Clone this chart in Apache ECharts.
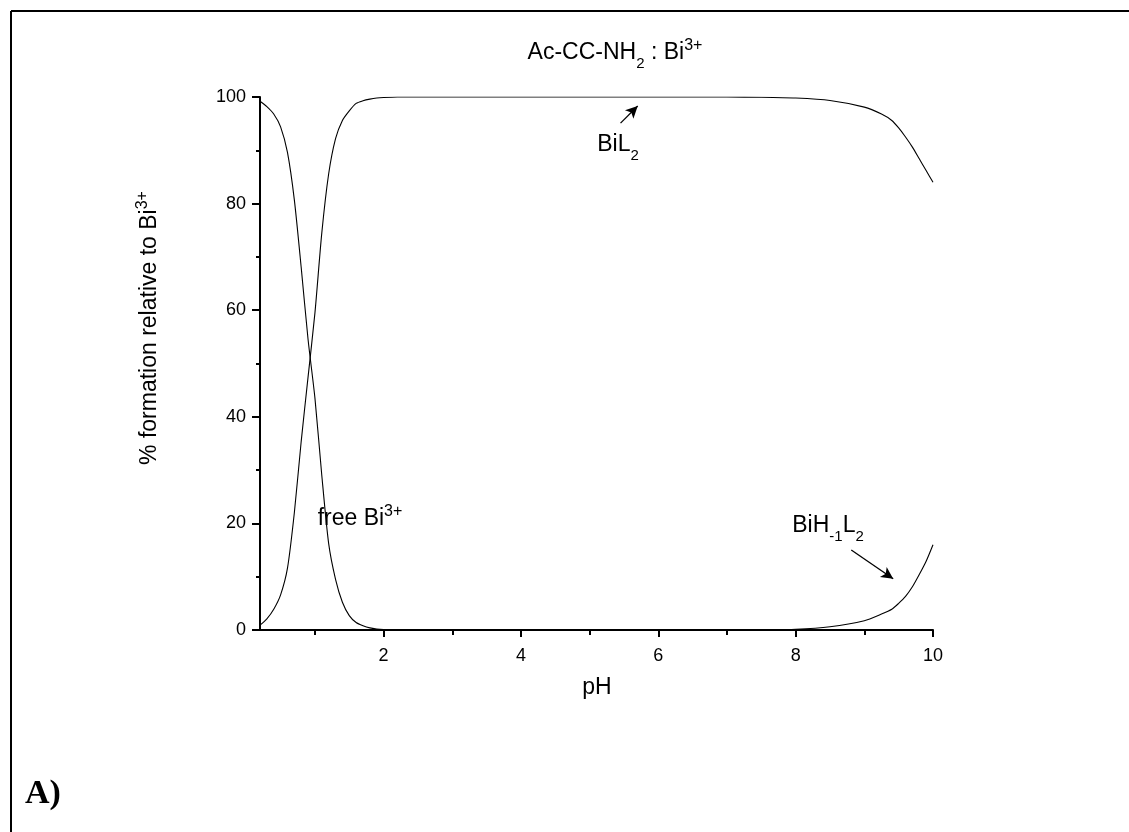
<!DOCTYPE html>
<html>
<head>
<meta charset="utf-8">
<script src="https://cdn.jsdelivr.net/npm/echarts@6/dist/echarts.min.js"></script>
<style>
  html, body { margin: 0; padding: 0; background: #fff; }
  #main { width: 1129px; height: 832px; }
</style>
</head>
<body>
<div id="main"></div>
<script>
// pH grid and species distribution (% relative to Bi3+)
var pH      = [0.2, 0.3, 0.4, 0.5, 0.6, 0.7, 0.8, 0.9, 1.0, 1.1, 1.2, 1.3, 1.4, 1.5, 1.6, 1.7, 1.8, 1.9, 2.0, 2.2, 2.5, 3, 4, 5, 6, 7, 7.5, 8, 8.5, 9, 9.25, 9.4, 9.5, 9.6, 9.7, 9.8, 9.9, 10];
var freeBi  = [99.2, 98.2, 96.8, 94.4, 89.6, 80.7, 68, 54.5, 43.5, 29, 16.2, 9.5, 5.2, 2.7, 1.4, 0.8, 0.4, 0.2, 0.1, 0.03, 0, 0, 0, 0, 0, 0, 0, 0, 0, 0, 0, 0, 0, 0, 0, 0, 0, 0];
var biL2    = [0.9, 2.1, 3.9, 6.6, 11.6, 22, 35.4, 47.5, 59.5, 74.5, 85.6, 92.2, 95.6, 97.4, 98.8, 99.3, 99.6, 99.8, 99.9, 100, 100, 100, 100, 100, 100, 100, 99.95, 99.8, 99.35, 98.1, 96.8, 95.6, 94.2, 92.5, 90.6, 88.4, 86.2, 84];
var biHL2   = [0, 0, 0, 0, 0, 0, 0, 0, 0, 0, 0, 0, 0, 0, 0, 0, 0, 0, 0, 0, 0, 0, 0, 0, 0, 0, 0.03, 0.12, 0.6, 1.75, 3.0, 3.9, 5.0, 6.3, 8.1, 10.4, 12.9, 16];

var xMajor = [2, 4, 6, 8, 10];
var xMinor = [1, 3, 5, 7, 9];

// arrows [start, end] in data coords
var arrowBiL2 = [[5.45, 95.1], [5.70, 98.3]];
var arrowBiH  = [[8.81, 15.0], [9.42, 9.6]];

function pairs(ys) {
  return pH.map(function (x, i) { return [x, ys[i]]; });
}

var font = 'Arial, "Liberation Sans", sans-serif';
var rich = {
  n:   { fontSize: 23, fontFamily: font, color: '#000', lineHeight: 24 },
  sub: { fontSize: 15, fontFamily: font, color: '#000', lineHeight: 15, padding: [22, 0, 0, 0] },
  sup: { fontSize: 16, fontFamily: font, color: '#000', lineHeight: 16, padding: [0, 0, 14, 0] }
};

function lineSeries(name, ys, extra) {
  var s = {
    name: name,
    type: 'line',
    data: pairs(ys),
    showSymbol: false,
    smooth: 0.25,
    lineStyle: { color: '#000', width: 1.1 },
    itemStyle: { color: '#000' },
    animation: false,
    z: 3
  };
  if (extra) s.markLine = extra;
  return s;
}

function arrow(a) {
  return [{ coord: a[0], symbol: 'none' }, { coord: a[1], symbol: 'arrow' }];
}

var chart = echarts.init(document.getElementById('main'));
chart.setOption({
  backgroundColor: '#fff',
  animation: false,
  grid: { left: 260, right: 196, top: 97, bottom: 202 },
  xAxis: [{
    type: 'value', min: 0.2, max: 10,
    axisLine: { onZero: false, lineStyle: { color: '#000', width: 2 } },
    axisTick: { customValues: xMajor, length: 7, lineStyle: { color: '#000', width: 2 } },
    axisLabel: { customValues: xMajor, margin: 17, color: '#000', fontSize: 18, fontFamily: font },
    splitLine: { show: false }
  }, {
    type: 'value', min: 0.2, max: 10, position: 'bottom',
    axisLine: { show: false, onZero: false },
    axisTick: { customValues: xMinor, length: 5, lineStyle: { color: '#000', width: 2 } },
    axisLabel: { show: false },
    splitLine: { show: false }
  }],
  yAxis: {
    type: 'value', min: 0, max: 100, interval: 20,
    axisLine: { show: true, lineStyle: { color: '#000', width: 2 } },
    axisTick: { show: true, length: 8, lineStyle: { color: '#000', width: 2 } },
    minorTick: { show: true, splitNumber: 2, length: 4, lineStyle: { color: '#000', width: 2 } },
    axisLabel: { margin: 14, color: '#000', fontSize: 18, fontFamily: font },
    splitLine: { show: false }
  },
  series: [
    lineSeries('free Bi', freeBi),
    lineSeries('BiL2', biL2, {
      silent: true, symbolSize: [9, 12], label: { show: false },
      lineStyle: { color: '#000', width: 1.3, type: 'solid' },
      data: [arrow(arrowBiL2), arrow(arrowBiH)]
    }),
    lineSeries('BiH-1L2', biHL2)
  ],
  graphic: [
    { type: 'line', shape: { x1: 11, y1: 11, x2: 1129, y2: 11 }, style: { stroke: '#000', lineWidth: 2 } },
    { type: 'line', shape: { x1: 11, y1: 11, x2: 11, y2: 832 }, style: { stroke: '#000', lineWidth: 2 } },
    { type: 'text', x: 615, y: 53, style: { text: '{n|Ac-CC-NH}{sub|2}{n| : Bi}{sup|3+}', rich: rich, align: 'center', verticalAlign: 'middle' } },
    { type: 'text', x: 150, y: 328, rotation: Math.PI / 2, style: { text: '{n|% formation relative to Bi}{sup|3+}', rich: rich, align: 'center', verticalAlign: 'middle' } },
    { type: 'text', x: 597, y: 688, style: { text: 'pH', fill: '#000', font: '23px ' + font, align: 'center', verticalAlign: 'middle' } },
    { type: 'text', x: 618, y: 145, style: { text: '{n|BiL}{sub|2}', rich: rich, align: 'center', verticalAlign: 'middle' } },
    { type: 'text', x: 828, y: 526, style: { text: '{n|BiH}{sub|-1}{n|L}{sub|2}', rich: rich, align: 'center', verticalAlign: 'middle' } },
    { type: 'text', x: 360, y: 519, style: { text: '{n|free Bi}{sup|3+}', rich: rich, align: 'center', verticalAlign: 'middle' } },
    { type: 'text', x: 25, y: 794, style: { text: 'A)', fill: '#000', font: 'bold 34px "Liberation Serif", "Times New Roman", serif', align: 'left', verticalAlign: 'middle' } }
  ]
});
</script>
</body>
</html>
